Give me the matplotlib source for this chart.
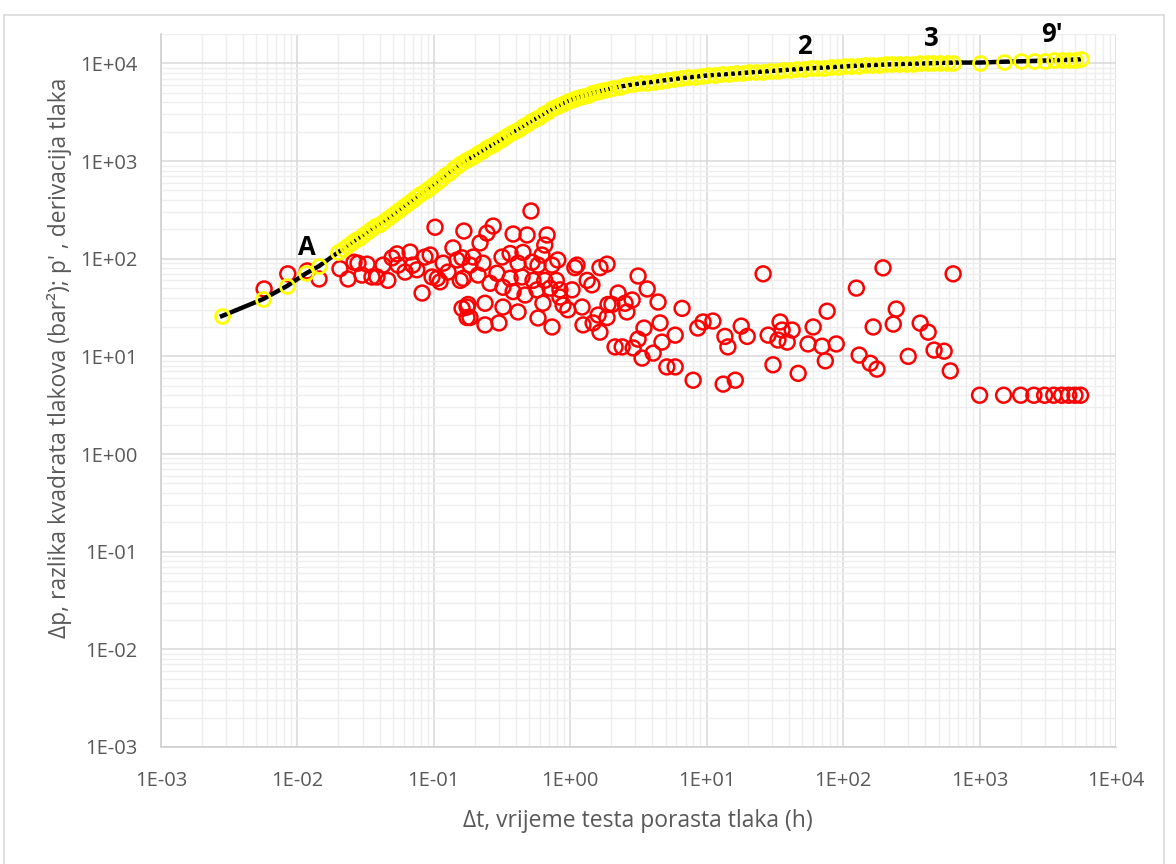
import numpy as np
import matplotlib
matplotlib.use("Agg")
import matplotlib.pyplot as plt
from matplotlib.ticker import LogLocator, FuncFormatter, NullFormatter
from matplotlib.patches import Rectangle

plt.rcParams['font.family'] = ['Open Sans', 'DejaVu Sans']

# pressure difference (yellow series, joined by black line)
t_dp = [0.0028, 0.0056, 0.0084, 0.0116, 0.0144,
        0.020, 0.0214, 0.0230, 0.0246, 0.0264, 0.0283, 0.0303, 0.0325, 0.0348, 0.0373,
        0.0400, 0.0428, 0.0459, 0.0492, 0.0527, 0.0565, 0.0605, 0.0648, 0.0695, 0.0744,
        0.0798, 0.0855, 0.0916, 0.0981, 0.105, 0.113, 0.121, 0.129, 0.139, 0.149,
        0.159, 0.171, 0.183, 0.196, 0.210, 0.225, 0.241, 0.258, 0.277, 0.297,
        0.318, 0.340, 0.365, 0.391, 0.419, 0.449, 0.481, 0.515, 0.552, 0.591,
        0.634, 0.679, 0.727, 0.779, 0.835, 0.895, 0.959, 1.03, 1.10, 1.18,
        1.26, 1.35, 1.45, 1.55, 1.66, 1.78, 1.91, 2.05,
        2.30, 2.58, 2.90, 3.25, 3.65, 4.09, 4.59, 5.15, 5.78, 6.48,
        7.27, 8.16, 9.16, 10.3, 11.5, 12.9, 14.5, 16.3, 18.3, 20.5,
        23.0, 25.8, 28.9, 32.5, 36.4, 40.9, 45.9, 51.5, 57.8, 64.8,
        72.7, 81.6, 91.6, 103, 115, 129, 145, 163, 183, 205,
        230, 258, 290, 325, 365, 409, 459, 515, 578, 640,
        1000, 1500, 2000, 2500, 3000, 3500, 4000, 4500, 5000, 5500]
dp = [25.9, 38.6, 52.6, 71, 84,
      117, 125, 135, 144, 154, 164, 175, 187, 200, 214,
      228, 243, 260, 279, 299, 321, 345, 370, 397, 427,
      459, 494, 531, 571, 612, 662, 713, 762, 824, 885,
      947, 1014, 1072, 1135, 1202, 1273, 1349, 1427, 1511, 1603,
      1702, 1803, 1918, 2032, 2153, 2277, 2410, 2553, 2700, 2858,
      3027, 3206, 3384, 3568, 3764, 3950, 4110, 4260, 4400, 4540,
      4670, 4800, 4940, 5070, 5200, 5340, 5480, 5610,
      5780, 5940, 6090, 6237, 6368, 6501, 6637, 6776, 6918, 7047,
      7178, 7311, 7430, 7534, 7621, 7709, 7798, 7889, 7980, 8072,
      8166, 8260, 8356, 8453, 8551, 8650, 8750, 8831, 8913, 8995,
      9078, 9162, 9247, 9333, 9419, 9484, 9550, 9616, 9683, 9750,
      9795, 9840, 9886, 9931, 9977, 10020, 10070, 10120, 10160, 10190,
      10200, 10400, 10500, 10600, 10700, 10800, 10850, 10900, 10950, 11000]

# pressure derivative (red circles)
t_der = [0.0057, 0.0085, 0.0118, 0.0144, 0.0205, 0.0235, 0.026, 0.0278, 0.0324, 0.0297,
         0.0352, 0.0383, 0.0424, 0.046, 0.0494, 0.0537, 0.0546, 0.0615, 0.067, 0.070,
         0.075, 0.082, 0.086, 0.094, 0.102, 0.097, 0.106, 0.111, 0.117, 0.127,
         0.138, 0.148, 0.156, 0.166, 0.161, 0.175, 0.175,
         0.515, 0.245, 0.272, 0.381, 0.482, 0.676, 0.65, 0.218, 0.161, 0.194,
         0.184, 0.229, 0.316, 0.362, 0.45, 0.62, 0.81, 1.12, 1.08, 1.65,
         1.86, 0.414, 0.525, 0.58, 0.735, 0.29, 0.362, 0.443, 0.533, 0.65,
         0.164, 0.211, 0.258, 0.321, 0.381, 0.466, 0.57, 0.71, 0.84, 1.03,
         1.33, 1.44, 0.178, 0.237, 0.321, 0.414, 0.63, 0.885, 0.96, 1.22,
         0.184, 0.237, 0.30, 0.58, 0.735, 1.24, 1.47, 1.65, 1.86, 1.89,
         0.84, 0.79,
         3.14, 3.66, 2.24, 2.02, 2.52, 2.84, 2.6, 4.4, 6.6, 1.6,
         3.47, 4.55, 5.87, 2.13, 2.4, 2.89, 3.14, 4.7, 4.05, 3.36,
         5.1, 5.87, 7.95, 8.6, 9.4, 11.1, 13.6, 14.3, 17.9, 19.8,
         25.9, 28.2, 33.3, 30.6, 13.2, 16.2, 34.5,
         35.7, 42.3, 38.9, 46.8, 60.3, 76.3, 55.3, 70, 89, 74,
         125, 196, 166, 233, 245, 131, 158, 177, 300, 367,
         420, 464, 550, 640, 610,
         1000, 1500, 2000, 2500, 3000, 3500, 4000, 4500, 5000, 5500]
der = [49, 70, 75, 62, 79, 62, 92, 90, 88, 68,
       65, 65, 86, 60, 102, 112, 86, 73, 117, 86,
       77, 44.5, 104, 109, 210, 65, 63, 58, 90, 73,
       129, 97, 60, 192, 31, 32, 25,
       308, 183, 216, 179, 175, 175, 138, 145, 102, 104,
       86, 90, 104, 113, 116, 109, 97, 86, 81, 81,
       88, 90, 92, 86, 86, 71, 63, 65, 60, 60,
       63, 68, 56, 51, 46, 42.5, 48, 50, 48, 48,
       60, 54, 34, 35, 32, 28.5, 35, 33.5, 30, 32,
       25, 21, 22, 24.7, 20, 21, 22, 17.7, 25, 34,
       40.5, 60,
       66.5, 49, 44.5, 34, 35, 37.8, 28.5, 36, 31, 26.5,
       19.5, 22, 16.5, 12.5, 12.5, 12.2, 15, 14, 10.8, 9.6,
       7.8, 7.8, 5.7, 19.5, 22.5, 23, 16, 12.5, 20.4, 16,
       70, 16.5, 14.7, 8.2, 5.2, 5.7, 22.5,
       18.6, 18.6, 14, 6.7, 20, 29, 13.4, 12.7, 13.4, 9.0,
       50, 80.6, 20, 21.4, 30.5, 10.3, 8.5, 7.4, 10, 21.9,
       17.7, 11.6, 11.3, 70, 7.1,
       4, 4, 4, 4, 4, 4, 4, 4, 4, 4]

fig = plt.figure(figsize=(11.76, 8.64), dpi=100)
fig.patches.append(Rectangle((4 / 1176, -0.02), 1160 / 1176, 0.014 + 854 / 864,
                             transform=fig.transFigure, fill=False,
                             edgecolor='#d9d9d9', linewidth=1.2))
ax = fig.add_axes([161 / 1176, 117 / 864, 955 / 1176, 713 / 864])

ax.set_xscale('log')
ax.set_yscale('log')
ax.set_xlim(1e-3, 1e4)
ax.set_ylim(1e-3, 2e4)

ax.scatter(t_der, der, s=115, facecolors='none', edgecolors='#ff0000',
           linewidths=1.8, zorder=3)
ax.plot(t_dp, dp, color='black', linewidth=3.2, zorder=4)
ax.plot(t_dp, dp, linestyle='none', marker='o', markersize=10,
        markerfacecolor='none', markeredgecolor='#ffff00',
        markeredgewidth=2.0, zorder=5)

# gridlines
for axis in (ax.xaxis, ax.yaxis):
    axis.set_major_locator(LogLocator(base=10, numticks=20))
    axis.set_minor_locator(LogLocator(base=10, subs=np.arange(2, 10), numticks=20))
    axis.set_minor_formatter(NullFormatter())
    axis.set_major_formatter(FuncFormatter(
        lambda v, p: "1E{:+03d}".format(int(round(np.log10(v))))))
ax.grid(True, which='major', color='#d9d9d9', linewidth=1.1, zorder=0)
ax.grid(True, which='minor', color='#eeeeee', linewidth=1.0, zorder=0)
ax.set_axisbelow(True)
ax.tick_params(which='both', length=0, labelsize=14.5, colors='#595959', pad=17)

for side in ('top', 'right'):
    ax.spines[side].set_visible(False)
for side in ('left', 'bottom'):
    ax.spines[side].set_color('#d0d0d0')
    ax.spines[side].set_linewidth(1.2)

fig.text(638 / 1176, 1 - 821 / 864, "Δt, vrijeme testa porasta tlaka (h)",
         ha='center', va='center', fontsize=16.5, color='#595959')
fig.text(60 / 1176, 1 - 358 / 864,
         "Δp, razlika kvadrata tlakova (bar²); p' , derivacija tlaka",
         ha='center', va='center', rotation=90, fontsize=16.5, color='#595959')

# point labels
for lbl, x, y in [("A", 0.01175, 130), ("2", 51.8, 14800),
                  ("3", 442, 17800), ("9'", 3405, 19600)]:
    ax.text(x, y, lbl, ha='center', va='center', fontsize=18.5,
            fontweight='bold', color='black', clip_on=False, zorder=6)

fig.savefig("out.png", dpi=100)
